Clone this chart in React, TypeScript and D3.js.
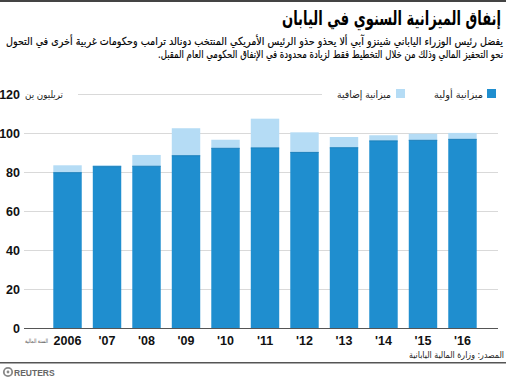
import React from "react";
import * as d3 from "d3";

const years = ["2006", "'07", "'08", "'09", "'10", "'11", "'12", "'13", "'14", "'15", "'16"];
const initialBudget = [79.9, 83.0, 83.2, 88.6, 92.4, 92.6, 90.3, 92.7, 96.2, 96.5, 97.0];
const extraBudget = [3.8, 0.8, 5.8, 14.1, 4.4, 15.0, 10.3, 5.5, 2.9, 3.4, 3.3];
const yTicks = [0, 20, 40, 60, 80, 100, 120];

const titleText = "إنفاق الميزانية السنوي في اليابان";
const subLine1 = "يفضل رئيس الوزراء الياباني شينزو آبي ألا يحذو حذو الرئيس الأمريكي المنتخب دونالد ترامب وحكومات غربية أخرى في التحول";
const subLine2 = "نحو التحفيز المالي وذلك من خلال التخطيط فقط لزيادة محدودة في الإنفاق الحكومي العام المقبل.";
const legendInitial = "ميزانية أولية";
const legendExtra = "ميزانية إضافية";
const unitLabel = "تريليون ين";
const fiscalYearLabel = "السنة المالية";
const sourceText = "المصدر: وزارة المالية اليابانية";

const DARK = "#1f8ecf";
const LIGHT = "#b5dcf5";
const AR = "'DejaVu Sans', sans-serif";
const NUM = "'Liberation Sans', Arial, sans-serif";
const rtl = (s: string) => "\u202B" + s + "\u202C";

export default function App() {
  const W = 506, H = 378;
  const x = d3.scaleBand<string>().domain(years).range([53.3, 476.7]).paddingInner(0.28).paddingOuter(0);
  const y = d3.scaleLinear().domain([0, 120]).range([328.5, 94.5]);

  return (
    <div style={{ position: "absolute", left: 0, top: 0 }}>
      <svg width={W} height={H} style={{ display: "block", background: "#fff" }}>
        <rect x={0} y={0} width={W} height={2} fill="#444" />
        <text x={501} y={25} textAnchor="end" fontFamily={AR} fontWeight="bold" fontSize={19.5}
          fill="#000" textLength={219} lengthAdjust="spacingAndGlyphs">{rtl(titleText)}</text>
        <text x={503} y={45} textAnchor="end" fontFamily={AR} fontSize={11}
          fill="#000" stroke="#000" strokeWidth={0.15} textLength={497} lengthAdjust="spacingAndGlyphs">{rtl(subLine1)}</text>
        <text x={503} y={58} textAnchor="end" fontFamily={AR} fontSize={11}
          fill="#000" stroke="#000" strokeWidth={0.15} textLength={345} lengthAdjust="spacingAndGlyphs">{rtl(subLine2)}</text>

        {/* gridlines */}
        {yTicks.filter(t => t > 0 && t < 120).map(t => (
          <line key={t} x1={24} x2={498} y1={y(t)} y2={y(t)} stroke="#d9d9d9" strokeWidth={1} />
        ))}
        <line x1={78} x2={322} y1={y(120)} y2={y(120)} stroke="#d9d9d9" strokeWidth={1} />

        {/* y labels */}
        {yTicks.map(t => (
          <text key={t} x={20} y={y(t) + 4.5} textAnchor="end" fontFamily={NUM} fontWeight="bold" fontSize={12.5} fill="#111">{t}</text>
        ))}
        <text x={63} y={98} textAnchor="end" fontFamily={AR} fontSize={10} fill="#222"
          textLength={38} lengthAdjust="spacingAndGlyphs">{rtl(unitLabel)}</text>

        {/* legend */}
        <rect x={487} y={89} width={9} height={9} fill={DARK} />
        <text x={483} y={98} textAnchor="end" fontFamily={AR} fontSize={10} fill="#222"
          textLength={49} lengthAdjust="spacingAndGlyphs">{rtl(legendInitial)}</text>
        <rect x={396} y={89} width={9} height={9} fill={LIGHT} />
        <text x={391} y={98} textAnchor="end" fontFamily={AR} fontSize={10} fill="#222"
          textLength={54} lengthAdjust="spacingAndGlyphs">{rtl(legendExtra)}</text>

        {/* bars */}
        {years.map((yr, i) => {
          const base = initialBudget[i];
          const total = base + extraBudget[i];
          return (
            <g key={yr}>
              <rect x={x(yr)} y={y(total)} width={x.bandwidth()} height={y(base) - y(total)} fill={LIGHT} />
              <rect x={x(yr)} y={y(base)} width={x.bandwidth()} height={y(0) - y(base)} fill={DARK} />
              <line x1={x(yr)} x2={(x(yr) as number) + x.bandwidth()} y1={y(base)} y2={y(base)} stroke="#1a7fbb" strokeWidth={1} />
            </g>
          );
        })}

        {/* axis */}
        <line x1={24} x2={498} y1={y(0)} y2={y(0)} stroke="#555" strokeWidth={1.2} />
        {years.map(yr => (
          <text key={yr} x={(x(yr) as number) + x.bandwidth() / 2} y={345} textAnchor="middle" fontFamily={NUM}
            fontWeight="bold" fontSize={12.5} fill="#111">{yr}</text>
        ))}
        <text x={48} y={343} textAnchor="end" fontFamily={AR} fontSize={6} fill="#555"
          textLength={23} lengthAdjust="spacingAndGlyphs">{rtl(fiscalYearLabel)}</text>

        {/* source */}
        <text x={504} y={358} textAnchor="end" fontFamily={AR} fontSize={9} fill="#222"
          textLength={95} lengthAdjust="spacingAndGlyphs">{rtl(sourceText)}</text>
        <rect x={0} y={362} width={W} height={1.5} fill="#555" />

        {/* Reuters logo */}
        <circle cx={8} cy={372} r={4.2} fill="none" stroke="#888" strokeWidth={1.8} />
        <circle cx={8} cy={372} r={1.4} fill="#888" />
        <text x={14} y={375.5} fontFamily={NUM} fontWeight="bold" fontSize={8.5} fill="#666">REUTERS</text>
      </svg>
    </div>
  );
}
